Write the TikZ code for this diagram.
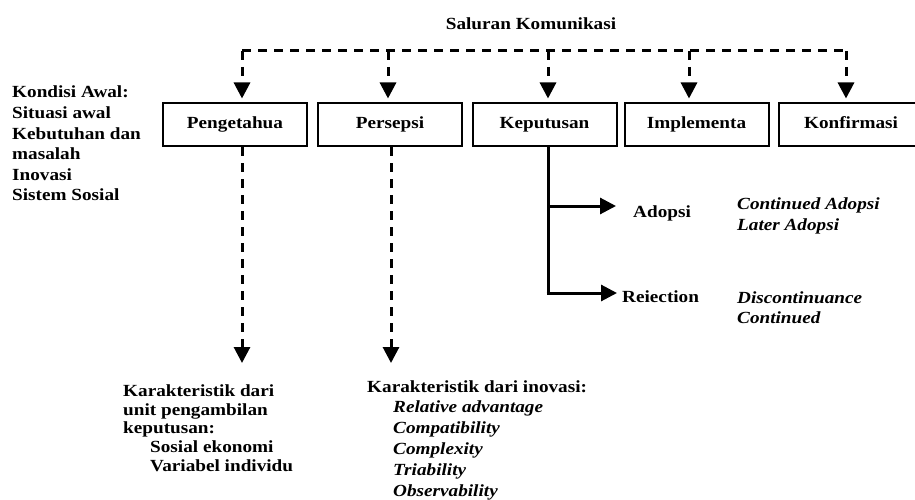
\documentclass[tikz,border=0pt]{standalone}
\usepackage{fontspec}
\setmainfont{Liberation Serif}[FakeStretch=1.13]
\usetikzlibrary{arrows.meta}
\begin{document}
\begin{tikzpicture}[x=1pt,y=-1pt,
  every node/.style={font=\bfseries\fontsize{17}{20.6}\selectfont, inner sep=0pt},
  stagebox/.style={draw, line width=2pt, minimum width=144pt, minimum height=43pt, text height=11.6pt, text depth=3.6pt},
  dashline/.style={line width=3pt, dash pattern=on 9pt off 7pt},
  dasharrow/.style={dashline, -{Triangle[length=16pt,width=16pt]}},
  solidarrow/.style={line width=3pt, -{Triangle[length=16pt,width=16pt]}},
  txt/.style={align=left, anchor=north west}]
\useasboundingbox (0,0) rectangle (915,500);

\node (title) at (531,24) {Saluran Komunikasi};

\node[stagebox] (b1) at (235,124.5) {Pengetahua};
\node[stagebox] (b2) at (390,124.5) {Persepsi};
\node[stagebox] (b3) at (544.5,124.5) {Keputusan};
\node[stagebox] (b4) at (696.5,124.5) {Implementa};
\node[stagebox] (b5) at (851,124.5) {Konfirmasi};

\coordinate (t1) at (242,51);
\coordinate (t2) at (388,51);
\coordinate (t3) at (548,51);
\coordinate (t4) at (689,51);
\coordinate (t5) at (846,51);
\draw[dashline] (t1) -- (t5);
\foreach \i in {1,...,5}{
  \draw[dasharrow, shorten >=3.5pt] (t\i) -- (t\i |- b\i.north);
}

\node[txt] (awal) at (12,86) {Kondisi Awal:\\Situasi awal\\Kebutuhan dan\\masalah\\Inovasi\\Sistem Sosial};

% bottom dashed arrows
\coordinate (e1) at (242,363);
\coordinate (e2) at (391,363);
\draw[dasharrow] (b1.south -| e1) -- (e1);
\draw[dasharrow] (b2.south -| e2) -- (e2);

\node[txt, font=\bfseries\fontsize{17}{18.7}\selectfont] (unit) at (123,384.5)
  {Karakteristik dari\\unit pengambilan\\keputusan:\\\hspace*{27pt}Sosial ekonomi\\\hspace*{27pt}Variabel individu};

\node[txt, font=\bfseries\fontsize{17}{20.8}\selectfont] (inov) at (367,380)
  {Karakteristik dari inovasi:\\\hspace*{26pt}\textit{Relative advantage}\\\hspace*{26pt}\textit{Compatibility}\\\hspace*{26pt}\textit{Complexity}\\\hspace*{26pt}\textit{Triability}\\\hspace*{26pt}\textit{Observability}};

% decision branches
\coordinate (k0) at (548,146);
\coordinate (ka) at (548,206);
\coordinate (kr) at (548,293);
\coordinate (aa) at (616,206);
\coordinate (ar) at (617,293);
\draw[line width=3pt] (b3.south -| k0) -- (kr);
\draw[solidarrow] (ka) -- (aa);
\draw[solidarrow] ([xshift=-1.5pt]kr) -- (ar);

\node[anchor=west] (adopsi) at (633,213) {Adopsi};
\node[anchor=west] (reject) at (622,297) {Reiection};
\node[txt, font=\bfseries\itshape\fontsize{17}{21}\selectfont] (adlist) at (737,197.5)
  {Continued Adopsi\\Later Adopsi};
\node[txt, font=\bfseries\itshape\fontsize{17}{20}\selectfont] (rejlist) at (737,291.5)
  {Discontinuance\\Continued};
\end{tikzpicture}
\end{document}
